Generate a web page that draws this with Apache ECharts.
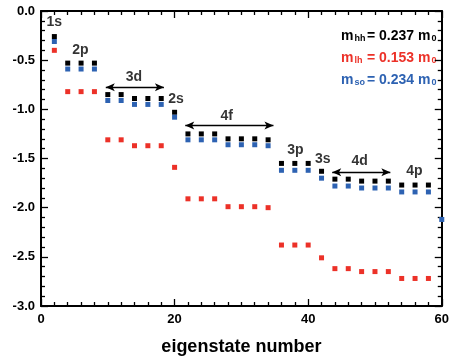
<!DOCTYPE html>
<html>
<head>
<meta charset="utf-8">
<script src="https://cdn.jsdelivr.net/npm/echarts@6/dist/echarts.min.js"></script>
<style>
  html, body { margin: 0; padding: 0; background: #fff; }
  #chart { width: 452px; height: 361px; }
</style>
</head>
<body>
<div id="chart"></div>
<script>
// Eigenstate energies (eV) of heavy-, light- and split-off-hole states
const states = [2, 4, 6, 8, 10, 12, 14, 16, 18, 20, 22, 24, 26, 28, 30, 32, 34,
                36, 38, 40, 42, 44, 46, 48, 50, 52, 54, 56, 58, 60];
const energyHH = [-0.26, -0.53, -0.53, -0.53, -0.85, -0.85, -0.89, -0.89, -0.89, -1.03,
                  -1.25, -1.25, -1.25, -1.30, -1.30, -1.30, -1.31, -1.55, -1.55, -1.55,
                  -1.63, -1.71, -1.71, -1.73, -1.73, -1.73, -1.77, -1.77, -1.77];
const energyLH = [-0.40, -0.82, -0.82, -0.82, -1.31, -1.31, -1.37, -1.37, -1.37, -1.59,
                  -1.91, -1.91, -1.91, -1.99, -1.99, -1.99, -2.00, -2.38, -2.38, -2.38,
                  -2.51, -2.62, -2.62, -2.65, -2.65, -2.65, -2.72, -2.72, -2.72];
const energySO = [-0.31, -0.59, -0.59, -0.59, -0.91, -0.91, -0.95, -0.95, -0.95, -1.08,
                  -1.31, -1.31, -1.31, -1.36, -1.36, -1.36, -1.37, -1.62, -1.62, -1.62,
                  -1.70, -1.78, -1.78, -1.80, -1.80, -1.80, -1.84, -1.84, -1.84, -2.12];

// Shell labels and where they sit (eigenstate number, energy)
const shellNames = ['1s', '2p', '3d', '2s', '4f', '3p', '3s', '4d', '4p'];
const shellX = [2.0, 5.9, 13.9, 20.2, 27.8, 38.1, 42.2, 47.7, 55.9];
const shellY = [-0.11, -0.40, -0.67, -0.90, -1.07, -1.42, -1.51, -1.53, -1.63];

// Double arrows spanning the degenerate groups: [xStart, xEnd, energy]
const groupArrows = [[9.7, 18.4, -0.775], [21.6, 34.8, -1.165], [43.6, 52.3, -1.64]];

// Effective masses
const massNames = ['hh', 'lh', 'so'];
const massValues = ['0.237', '0.153', '0.234'];

const FONT = "'Liberation Sans', Arial, Helvetica, sans-serif";
const BLACK = '#000000', RED = '#ec3128', BLUE = '#2d62b2';
const colors = [BLACK, RED, BLUE];

function pairs(values) {
  return values.map((v, i) => [states[i], v]);
}

const chart = echarts.init(document.getElementById('chart'));

const gridLeft = 41, gridTop = 11, gridRight = 6, gridBottom = 52;

function axisCommon(showLabels) {
  return {
    axisLine: { show: true, onZero: false, lineStyle: { color: '#000', width: 2 } },
    axisTick: { show: true, inside: true, length: 7, lineStyle: { color: '#000', width: 1.3 } },
    minorTick: { show: true, length: 4, lineStyle: { color: '#000', width: 1.3 } },
    splitLine: { show: false },
    axisLabel: {
      show: showLabels, color: '#000', fontFamily: FONT, fontWeight: 'bold', fontSize: 13
    }
  };
}

const xBottom = Object.assign(axisCommon(true), {
  type: 'value', position: 'bottom', min: 0, max: 60, interval: 20,
  name: 'eigenstate number', nameLocation: 'middle', nameGap: 32,
  nameTextStyle: { color: '#000', fontFamily: FONT, fontWeight: 'bold', fontSize: 18 }
});
xBottom.minorTick.splitNumber = 10;
xBottom.axisLabel.margin = 7;

const xTop = Object.assign(axisCommon(false), {
  type: 'value', position: 'top', min: 0, max: 60, interval: 20
});
xTop.minorTick.splitNumber = 10;

const yLeft = Object.assign(axisCommon(true), {
  type: 'value', position: 'left', min: -3, max: 0, interval: 0.5
});
yLeft.minorTick.splitNumber = 5;
yLeft.axisLabel.formatter = v => v.toFixed(1);
yLeft.axisLabel.margin = 6;

const yRight = Object.assign(axisCommon(false), {
  type: 'value', position: 'right', min: -3, max: 0, interval: 0.5
});
yRight.minorTick.splitNumber = 5;

function scatter(name, values, color) {
  return {
    name, type: 'scatter', data: pairs(values),
    symbol: 'rect', symbolSize: 5,
    itemStyle: { color, opacity: 1 },
    xAxisIndex: 0, yAxisIndex: 0, z: 3
  };
}

const annotationSeries = {
  name: 'shells', type: 'scatter', silent: true,
  xAxisIndex: 0, yAxisIndex: 0, symbolSize: 0,
  data: shellNames.map((n, i) => ({ name: n, value: [shellX[i], shellY[i]] })),
  label: {
    show: true, position: 'inside', formatter: p => p.name,
    color: '#000', fontFamily: FONT, fontWeight: 'bold', fontSize: 14
  },
  markLine: {
    silent: true, animation: false,
    symbol: ['arrow', 'arrow'], symbolSize: [6, 9],
    label: { show: false },
    lineStyle: { color: '#000', width: 1.3, type: 'solid' },
    data: groupArrows.map(a => [{ coord: [a[0], a[2]] }, { coord: [a[1], a[2]] }])
  }
};

// Effective-mass legend drawn as text with subscripts
const legendGraphics = [];
const lineY = [33, 55, 77];
massNames.forEach((n, i) => {
  const rich = {
    m: { fontSize: 14, fontWeight: 'bold', fontFamily: FONT, fill: colors[i], lineHeight: 14, verticalAlign: 'top' },
    s: { fontSize: 9, fontWeight: 'bold', fontFamily: FONT, fill: colors[i], lineHeight: 8, verticalAlign: 'bottom', padding: [8, 0, 0, 1] }
  };
  legendGraphics.push({
    type: 'text', left: 341, top: lineY[i] - 7, silent: true,
    style: { text: '{m|m}{s|' + n + '}', fill: colors[i], rich }
  });
  legendGraphics.push({
    type: 'text', left: 367, top: lineY[i] - 7, silent: true,
    style: { text: '{m|= ' + massValues[i] + ' m}{s|0}', fill: colors[i], rich }
  });
});

chart.setOption({
  animation: false,
  backgroundColor: '#fff',
  grid: { left: gridLeft, top: gridTop, right: gridRight, bottom: gridBottom, containLabel: false },
  xAxis: [xBottom, xTop],
  yAxis: [yLeft, yRight],
  series: [
    scatter('hh', energyHH, BLACK),
    scatter('lh', energyLH, RED),
    scatter('so', energySO, BLUE),
    annotationSeries
  ],
  graphic: legendGraphics
});
</script>
</body>
</html>
